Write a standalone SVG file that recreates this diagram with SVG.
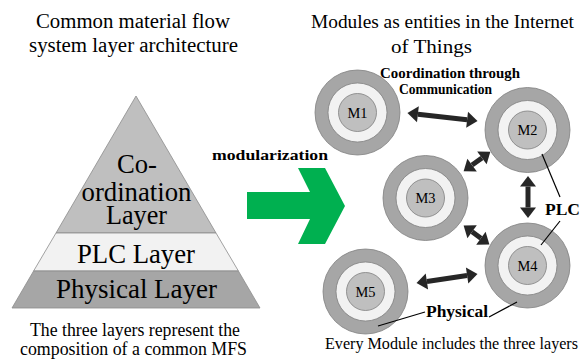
<svg xmlns="http://www.w3.org/2000/svg" width="583" height="361" viewBox="0 0 583 361">
<style>
.t{font-family:"Liberation Serif",Tinos,"Times New Roman",Times,"DejaVu Serif",serif;fill:#000;text-anchor:middle}
.b{font-family:"Liberation Serif",Tinos,"Times New Roman",Times,"DejaVu Serif",serif;font-weight:bold;fill:#000;text-anchor:middle}
.o{fill:#a6a6a6;stroke:#7f7f7f;stroke-width:0.8}
.w{fill:#f2f2f2;stroke:#7f7f7f;stroke-width:0.8}
.i{fill:#bfbfbf;stroke:#7f7f7f;stroke-width:0.8}
.lay{stroke:#8c8c8c;stroke-width:0.8}
.arr{stroke:#262626;stroke-width:5;fill:none;marker-start:url(#h);marker-end:url(#h)}
.lead{stroke:#000;stroke-width:1.2;fill:none}
</style>
<defs>
<marker id="h" markerUnits="userSpaceOnUse" markerWidth="12" markerHeight="18" viewBox="0 -9 11 18" refX="0" refY="0" orient="auto-start-reverse">
<path d="M0,-8 L10.5,0 L0,8 z" fill="#262626"/>
</marker>
</defs>
<rect width="583" height="361" fill="#fff"/>

<g id="title-left">
<text class="t" x="133" y="28" font-size="20" textLength="194" lengthAdjust="spacingAndGlyphs">Common material flow</text>
<text class="t" x="133.5" y="52" font-size="20" textLength="209" lengthAdjust="spacingAndGlyphs">system layer architecture</text>
</g>
<g id="title-right">
<text class="t" x="442.5" y="28" font-size="19.5" textLength="263" lengthAdjust="spacingAndGlyphs">Modules as entities in the Internet</text>
<text class="t" x="431.5" y="53" font-size="19.5" textLength="81" lengthAdjust="spacingAndGlyphs">of Things</text>
</g>

<g id="pyramid">
<g id="coordination-layer">
<polygon class="lay" points="136,96 216,233 56,233" fill="#bfbfbf"/>
<text class="t" x="137" y="173" font-size="26.5" textLength="40" lengthAdjust="spacingAndGlyphs">Co-</text>
<text class="t" x="136.5" y="201" font-size="26.5" textLength="110" lengthAdjust="spacingAndGlyphs">ordination</text>
<text class="t" x="136.5" y="224" font-size="26.5" textLength="61" lengthAdjust="spacingAndGlyphs">Layer</text>
</g>
<g id="plc-layer">
<polygon class="lay" points="56,233 216,233 238.4,271 33.6,271" fill="#f2f2f2"/>
<text class="t" x="136" y="263" font-size="26.5" textLength="118" lengthAdjust="spacingAndGlyphs">PLC Layer</text>
</g>
<g id="physical-layer">
<polygon class="lay" points="33.6,271 238.4,271 260,308 12,308" fill="#a6a6a6"/>
<text class="t" x="136.5" y="298" font-size="26.5" textLength="161" lengthAdjust="spacingAndGlyphs">Physical Layer</text>
</g>
</g>

<g id="caption-left">
<text class="t" x="135" y="336" font-size="18" textLength="210" lengthAdjust="spacingAndGlyphs">The three layers represent the</text>
<text class="t" x="133.5" y="355" font-size="18" textLength="227" lengthAdjust="spacingAndGlyphs">composition of a common MFS</text>
</g>

<g id="modularization">
<text class="b" x="270" y="160" font-size="15" textLength="116" lengthAdjust="spacingAndGlyphs">modularization</text>
<polygon points="247,192 310,192 298,168 325,168 345,206 325,244 298,244 310,219 247,219" fill="#00b050"/>
</g>

<g id="M1">
<circle class="o" cx="357.5" cy="112.5" r="42.5"/>
<circle class="w" cx="357.5" cy="112.5" r="29.5"/>
<circle class="i" cx="357.5" cy="112.5" r="19"/>
<text class="t" x="357.5" y="117.5" font-size="14.5" textLength="20" lengthAdjust="spacingAndGlyphs">M1</text>
</g>
<g id="M2">
<circle class="o" cx="527.5" cy="130" r="42.5"/>
<circle class="w" cx="527.5" cy="130" r="29.5"/>
<circle class="i" cx="527.5" cy="130" r="19"/>
<text class="t" x="527.5" y="135" font-size="14.5" textLength="20" lengthAdjust="spacingAndGlyphs">M2</text>
</g>
<g id="M3">
<circle class="o" cx="425.5" cy="198" r="42.5"/>
<circle class="w" cx="425.5" cy="198" r="29.5"/>
<circle class="i" cx="425.5" cy="198" r="19"/>
<text class="t" x="425.5" y="203" font-size="14.5" textLength="20" lengthAdjust="spacingAndGlyphs">M3</text>
</g>
<g id="M4">
<circle class="o" cx="527.5" cy="265.5" r="42.5"/>
<circle class="w" cx="527.5" cy="265.5" r="29.5"/>
<circle class="i" cx="527.5" cy="265.5" r="19"/>
<text class="t" x="527.5" y="270.5" font-size="14.5" textLength="20" lengthAdjust="spacingAndGlyphs">M4</text>
</g>
<g id="M5">
<circle class="o" cx="365.5" cy="291.5" r="42.5"/>
<circle class="w" cx="365.5" cy="291.5" r="29.5"/>
<circle class="i" cx="365.5" cy="291.5" r="19"/>
<text class="t" x="365.5" y="296.5" font-size="14.5" textLength="20" lengthAdjust="spacingAndGlyphs">M5</text>
</g>

<g id="connectors">
<line class="arr" x1="417.9" y1="114.2" x2="467.1" y2="119.8"/>
<line class="arr" x1="472.1" y1="165.1" x2="481.9" y2="157.9"/>
<line class="arr" x1="528" y1="186.5" x2="528" y2="207.5"/>
<line class="arr" x1="472.1" y1="231.8" x2="480.9" y2="238.2"/>
<line class="arr" x1="426.9" y1="281.5" x2="467.1" y2="275.5"/>
<line class="lead" x1="542" y1="154" x2="560" y2="197"/>
<line class="lead" x1="560" y1="221" x2="541" y2="245"/>
<line class="lead" x1="378" y1="326" x2="425" y2="312"/>
<line class="lead" x1="489" y1="317" x2="517" y2="302"/>
</g>

<g id="labels">
<text class="b" x="450" y="78" font-size="14" textLength="140" lengthAdjust="spacingAndGlyphs">Coordination through</text>
<text class="b" x="445.5" y="94" font-size="14" textLength="93" lengthAdjust="spacingAndGlyphs">Communication</text>
<text class="b" x="562.5" y="215" font-size="16" textLength="35" lengthAdjust="spacingAndGlyphs">PLC</text>
<text class="b" x="457" y="317" font-size="16" textLength="62" lengthAdjust="spacingAndGlyphs">Physical</text>
</g>

<g id="caption-right">
<text class="t" x="451.5" y="349" font-size="16.2" textLength="253" lengthAdjust="spacingAndGlyphs">Every Module includes the three layers</text>
</g>
</svg>
